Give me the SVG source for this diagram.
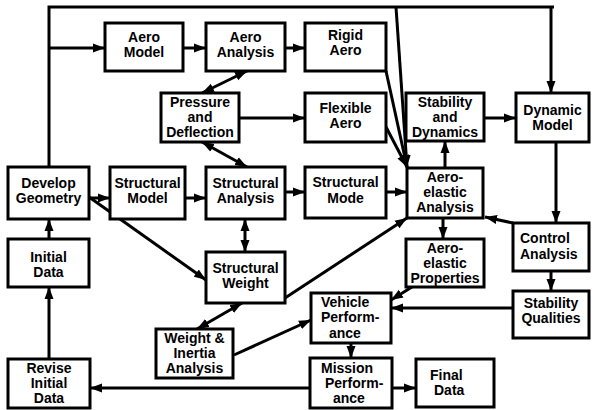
<svg xmlns="http://www.w3.org/2000/svg" width="593" height="410" viewBox="0 0 593 410">
<style>
.b{fill:#fff;stroke:#000;stroke-width:3}
.t{font-family:"Liberation Sans",Arial,sans-serif;font-weight:bold;font-size:14px;fill:#000;text-anchor:middle}
.s{text-anchor:start}
.c{fill:none;stroke:#000;stroke-width:3}
.a{marker-end:url(#ah)}
.d{marker-end:url(#ah);marker-start:url(#ah)}
</style>
<defs>
<marker id="ah" markerUnits="userSpaceOnUse" markerWidth="13" markerHeight="10" refX="12" refY="5" orient="auto-start-reverse">
<path d="M0,0.5 L12,5 L0,9.5 z" fill="#000"/>
</marker>
</defs>
<rect width="593" height="410" fill="#fff"/>
<g id="connectors">
<path class="c" d="M49,167 V7 H554"/>
<path class="c a" d="M551,7 V93"/>
<path class="c a" d="M49,48 H105"/>
<path class="c a" d="M183,48 H206"/>
<path class="c a" d="M285,48 H305"/>
<path class="c d" d="M247,71 L202,93"/>
<path class="c a" d="M239,118 H305"/>
<path class="c d" d="M202,142 L247,167"/>
<path class="c a" d="M89,198 H110"/>
<path class="c a" d="M185,198 H206"/>
<path class="c a" d="M285,192 H305"/>
<path class="c a" d="M386,192 H407"/>
<path class="c d" d="M245,219 V252"/>
<path class="c a" d="M89,197 L206,280"/>
<path class="c a" d="M285,298 L407,218"/>
<path class="c d" d="M242,303 L197,329"/>
<path class="c a" d="M234,355 L311,320"/>
<path class="c a" d="M412,287 L391,300"/>
<path class="c a" d="M513,308 H391"/>
<path class="c a" d="M351,343 V358"/>
<path class="c a" d="M392,388 H416"/>
<path class="c a" d="M310,388 H90"/>
<path class="c a" d="M49,359 V287"/>
<path class="c a" d="M49,239 V219"/>
<path class="c a" d="M445,168 V141"/>
<path class="c a" d="M485,118 H516"/>
<path class="c a" d="M556,142 V223"/>
<path class="c a" d="M443,218 V239"/>
<path class="c a" d="M513,223 L485,217"/>
<path class="c a" d="M551,271 V291"/>
<path class="c a" d="M396,7 L407,167"/>
<path class="c a" d="M386,71 L407,167"/>
<path class="c a" d="M386,127 L407,167"/>
</g>
<g id="aero-model"><rect class="b" x="105" y="23" width="78" height="48"/><text class="t" x="144" y="42">Aero</text><text class="t" x="144" y="57">Model</text></g>
<g id="aero-analysis"><rect class="b" x="206" y="23" width="79" height="48"/><text class="t" x="245.5" y="42">Aero</text><text class="t" x="245.5" y="57">Analysis</text></g>
<g id="rigid-aero"><rect class="b" x="305" y="23" width="81" height="48"/><text class="t" x="345.5" y="40">Rigid</text><text class="t" x="345.5" y="55">Aero</text></g>
<g id="pressure-deflection"><rect class="b" x="161" y="93" width="78" height="49"/><text class="t" x="200" y="107">Pressure</text><text class="t" x="200" y="122">and</text><text class="t" x="200" y="137">Deflection</text></g>
<g id="flexible-aero"><rect class="b" x="305" y="93" width="81" height="49"/><text class="t" x="345.5" y="113">Flexible</text><text class="t" x="345.5" y="128">Aero</text></g>
<g id="stability-dynamics"><rect class="b" x="406" y="93" width="78" height="48"/><text class="t" x="445" y="107">Stability</text><text class="t" x="445" y="122">and</text><text class="t" x="445" y="137">Dynamics</text></g>
<g id="dynamic-model"><rect class="b" x="516" y="93" width="73" height="49"/><text class="t" x="552.5" y="115">Dynamic</text><text class="t" x="552.5" y="130">Model</text></g>
<g id="develop-geometry"><rect class="b" x="8" y="167" width="81" height="52"/><text class="t" x="48.5" y="188">Develop</text><text class="t" x="48.5" y="203">Geometry</text></g>
<g id="structural-model"><rect class="b" x="110" y="167" width="75" height="52"/><text class="t" x="147.5" y="188">Structural</text><text class="t" x="147.5" y="203">Model</text></g>
<g id="structural-analysis"><rect class="b" x="206" y="167" width="79" height="52"/><text class="t" x="245.5" y="188">Structural</text><text class="t" x="245.5" y="203">Analysis</text></g>
<g id="structural-mode"><rect class="b" x="305" y="167" width="81" height="51"/><text class="t" x="345.5" y="187">Structural</text><text class="t" x="345.5" y="203">Mode</text></g>
<g id="aeroelastic-analysis"><rect class="b" x="407" y="168" width="76" height="50"/><text class="t" x="445" y="182">Aero-</text><text class="t" x="445" y="197">elastic</text><text class="t" x="445" y="212">Analysis</text></g>
<g id="control-analysis"><rect class="b" x="513" y="223" width="76" height="48"/><text class="t s" x="520" y="243">Control</text><text class="t s" x="520" y="259">Analysis</text></g>
<g id="initial-data"><rect class="b" x="8" y="239" width="81" height="48"/><text class="t" x="48.5" y="262">Initial</text><text class="t" x="48.5" y="277">Data</text></g>
<g id="structural-weight"><rect class="b" x="206" y="252" width="79" height="51"/><text class="t" x="245.5" y="273">Structural</text><text class="t" x="245.5" y="288">Weight</text></g>
<g id="aeroelastic-properties"><rect class="b" x="406" y="239" width="78" height="48"/><text class="t" x="445" y="253">Aero-</text><text class="t" x="445" y="268">elastic</text><text class="t" x="445" y="283">Properties</text></g>
<g id="stability-qualities"><rect class="b" x="513" y="291" width="76" height="47"/><text class="t" x="551" y="308">Stability</text><text class="t" x="551" y="323">Qualities</text></g>
<g id="vehicle-performance"><rect class="b" x="311" y="293" width="80" height="50"/><text class="t s" x="321" y="307">Vehicle</text><text class="t s" x="321" y="322">Perform-</text><text class="t s" x="329" y="338">ance</text></g>
<g id="weight-inertia"><rect class="b" x="156" y="329" width="77" height="49"/><text class="t" x="194.5" y="343">Weight &amp;</text><text class="t" x="194.5" y="358">Inertia</text><text class="t" x="194.5" y="373">Analysis</text></g>
<g id="revise-initial-data"><rect class="b" x="8" y="359" width="82" height="49"/><text class="t" x="49" y="373">Revise</text><text class="t" x="49" y="388">Initial</text><text class="t" x="49" y="403">Data</text></g>
<g id="mission-performance"><rect class="b" x="310" y="358" width="82" height="50"/><text class="t s" x="321" y="373">Mission</text><text class="t s" x="325" y="388">Perform-</text><text class="t s" x="333" y="403">ance</text></g>
<g id="final-data"><rect class="b" x="416" y="359" width="78" height="48"/><text class="t s" x="430" y="380">Final</text><text class="t s" x="434" y="395">Data</text></g>
</svg>
